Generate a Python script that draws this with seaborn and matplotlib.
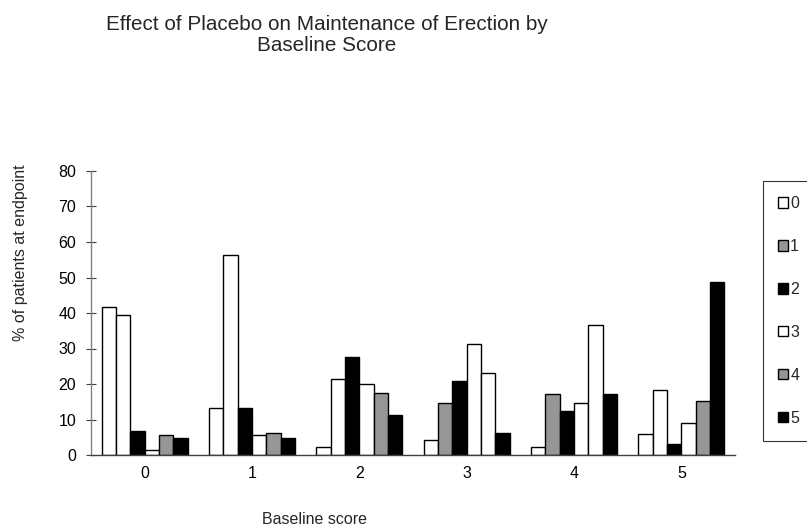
import matplotlib
matplotlib.use("Agg")
import matplotlib.pyplot as plt
from matplotlib.patches import Patch
import seaborn as sns
import pandas as pd
import numpy as np

# ---- data ----
baseline = ["0", "1", "2", "3", "4", "5"]
endpoint = ["0", "1", "2", "3", "4", "5"]
s0 = [41.7, 13.2, 2.2, 4.1, 2.2, 5.9]
s1 = [39.3, 56.3, 21.3, 14.6, 17.1, 18.3]
s2 = [6.7, 13.3, 27.7, 20.9, 12.4, 3.0]
s3 = [1.3, 5.7, 20.1, 31.2, 14.7, 9.1]
s4 = [5.7, 6.2, 17.5, 23.0, 36.7, 15.3]
s5 = [4.9, 4.9, 11.3, 6.3, 17.2, 48.6]
yticks = [0, 10, 20, 30, 40, 50, 60, 70, 80]

series = [s0, s1, s2, s3, s4, s5]
df = pd.DataFrame(
    [(b, e, series[i][j]) for i, e in enumerate(endpoint) for j, b in enumerate(baseline)],
    columns=["baseline", "endpoint", "pct"],
)

# ---- styles ----
W, G, B = "#ffffff", "#969696", "#000000"
legend_fills = [W, G, B, W, G, B]
bar_fills = [
    [W, W, W, W, W, W],
    [W, W, W, G, G, W],
    [B, B, B, B, B, B],
    [W, W, W, W, W, W],
    [G, G, G, W, W, G],
    [B, B, B, B, B, B],
]

sns.set_style("white")
plt.rcParams["font.family"] = ["Liberation Sans", "DejaVu Sans"]

fig = plt.figure(figsize=(8.07, 5.27), dpi=100)
ax = fig.add_axes([91 / 807, 1 - 455 / 527, (735 - 91) / 807, (455 - 171) / 527])

sns.barplot(
    data=df, x="baseline", y="pct", hue="endpoint", order=baseline, hue_order=endpoint,
    palette=legend_fills, saturation=1, edgecolor="black", linewidth=1.0,
    width=0.8, errorbar=None, legend=False, ax=ax,
)
for i, cont in enumerate(ax.containers):
    for j, bar in enumerate(cont):
        bar.set_facecolor(bar_fills[i][j])

ax.set_ylim(0, 80)
ax.set_xlim(-0.5, 5.5)
ax.set_yticks(yticks)
ax.set_yticklabels([str(v) for v in yticks])
ax.set_xticks(range(len(baseline)))
ax.set_xticklabels(baseline)
ax.set_xticks(np.arange(-0.5, 6, 1.0), minor=True)
ax.set_xlabel("")
ax.set_ylabel("")

for s in ["top", "right"]:
    ax.spines[s].set_visible(False)
ax.spines["left"].set_color("#808080")
ax.spines["left"].set_linewidth(1.0)
ax.spines["bottom"].set_color("#404040")
ax.spines["bottom"].set_linewidth(1.0)

FS = 11.5
ax.tick_params(axis="x", which="major", length=0, pad=8, labelsize=FS, labelcolor="black")
ax.tick_params(axis="x", which="minor", direction="inout", length=7, width=0.8, color="#404040")
ax.tick_params(axis="y", which="major", direction="inout", length=6.5, width=0.8,
               color="#404040", pad=7.5, labelsize=FS, labelcolor="black", left=True)

fig.text(327 / 807, 1 - 35 / 527,
         "Effect of Placebo on Maintenance of Erection by\nBaseline Score",
         ha="center", va="center", fontsize=14.9, linespacing=1.1)
fig.text(21 / 807, 1 - 253 / 527, "% of patients at endpoint", rotation=90,
         ha="center", va="center", fontsize=FS)
fig.text(315 / 807, 1 - 519 / 527, "Baseline score", ha="center", va="center", fontsize=FS)

handles = [Patch(facecolor=c, edgecolor="black", linewidth=1.0) for c in legend_fills]
leg = fig.legend(
    handles, endpoint, loc="upper left", bbox_to_anchor=(763 / 807, 1 - 181 / 527),
    bbox_transform=fig.transFigure, frameon=True, fancybox=False, edgecolor="black",
    handlelength=0.6, handleheight=0.6, handletextpad=0.15, labelspacing=1.75,
    borderpad=0.95, borderaxespad=0, fontsize=FS,
)
leg.get_frame().set_linewidth(0.8)

fig.savefig("out.png", dpi=100)
